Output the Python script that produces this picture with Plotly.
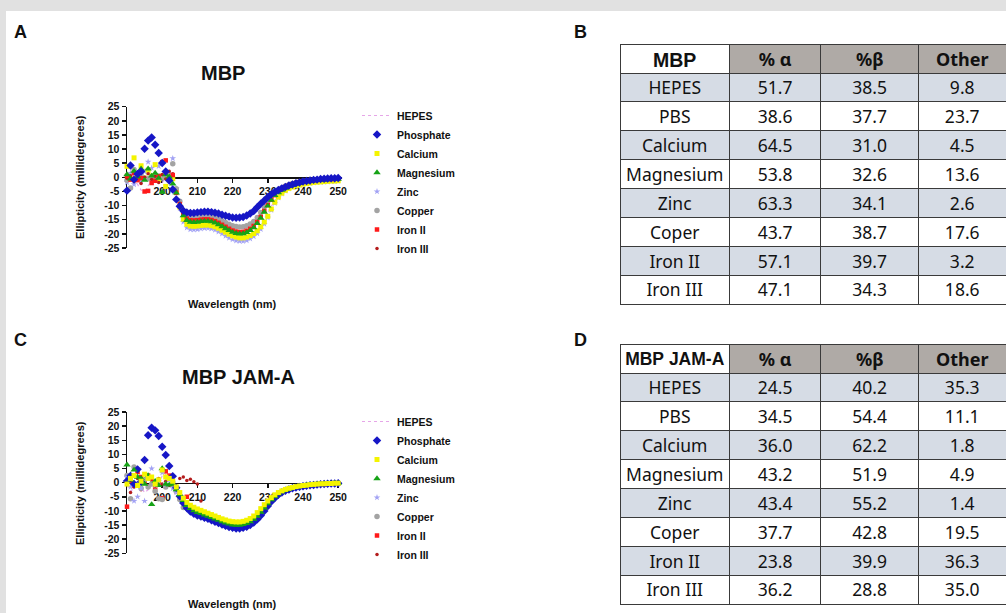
import plotly.graph_objects as go

# ---------------- data ----------------
WAVELENGTH = [190, 191, 192, 193, 194, 195, 196, 197, 198, 199,
              200, 201, 202, 203, 204, 205, 206, 207, 208, 209,
              210, 211, 212, 213, 214, 215, 216, 217, 218, 219,
              220, 221, 222, 223, 224, 225, 226, 227, 228, 229,
              230, 231, 232, 233, 234, 235, 236, 237, 238, 239,
              240, 241, 242, 243, 244, 245, 246, 247, 248, 249,
              250]

SERIES = ["HEPES", "Phosphate", "Calcium", "Magnesium", "Zinc", "Copper", "Iron II", "Iron III"]

# Panel A (MBP)
A_HEPES = [0.5, -1.5, 1.0, -2.5, -4.5, -5.0, -3.0, -1.0, 0.8, -0.5,
           -2.0, 0.5, -1.0, -3.5, -6.5, -10.5, -14.5, -16.3, -16.9, -17.0,
           -16.9, -16.7, -16.6, -16.6, -16.8, -17.2, -17.7, -18.4, -19.1, -19.8,
           -20.3, -20.7, -20.9, -20.9, -20.6, -20.1, -19.3, -18.2, -16.7, -14.8,
           -12.6, -10.2, -8.1, -6.4, -5.2, -4.3, -3.6, -3.1, -2.7, -2.4,
           -2.1, -1.9, -1.7, -1.6, -1.5, -1.4, -1.3, -1.2, -1.1, -1.1,
           -1.0]
A_PHOSPHATE = [-4.7, 4.2, -0.8, 1.2, 2.1, 10.1, 13.0, 14.1, 11.5, 8.6,
               5.1, 2.1, -1.1, -4.3, -7.8, -10.2, -11.8, -12.4, -12.6, -12.6,
               -12.4, -12.3, -12.2, -12.2, -12.3, -12.5, -12.8, -13.2, -13.6, -13.9,
               -14.2, -14.3, -14.2, -14.0, -13.5, -12.8, -11.9, -10.6, -9.3, -8.2,
               -7.0, -6.0, -5.2, -4.5, -3.9, -3.4, -2.9, -2.5, -2.1, -1.8,
               -1.5, -1.3, -1.1, -0.9, -0.8, -0.6, -0.5, -0.4, -0.3, -0.3,
               -0.2]
A_CALCIUM = [3.9, -0.5, 6.9, 1.0, 4.1, -0.2, 2.5, 0.5, 4.5, -0.8,
             0.5, -3.2, -1.0, -0.5, -4.8, -10.5, -14.8, -16.6, -17.2, -17.3,
             -17.2, -17.0, -16.9, -16.9, -17.1, -17.5, -18.0, -18.7, -19.4, -20.1,
             -20.7, -21.1, -21.4, -21.4, -21.1, -20.6, -19.9, -18.9, -17.5, -15.8,
             -13.8, -11.2, -8.8, -7.0, -5.6, -4.6, -3.9, -3.4, -3.0, -2.7,
             -2.4, -2.2, -2.0, -1.8, -1.7, -1.6, -1.5, -1.4, -1.3, -1.3,
             -1.2]
A_MAGNESIUM = [1.0, -0.5, 2.2, 0.2, 3.0, -1.0, 3.0, 0.5, 1.5, -0.3,
               -5.2, 1.0, 0.2, -2.3, -5.5, -9.8, -13.5, -15.2, -15.8, -15.9,
               -15.8, -15.6, -15.5, -15.5, -15.7, -16.1, -16.7, -17.4, -18.1, -18.8,
               -19.4, -19.8, -20.0, -19.9, -19.5, -18.8, -17.8, -16.3, -14.4, -12.3,
               -10.1, -8.1, -6.4, -5.4, -4.5, -3.8, -3.2, -2.8, -2.4, -2.1,
               -1.8, -1.6, -1.4, -1.2, -1.1, -1.0, -0.9, -0.8, -0.7, -0.7,
               -0.6]
A_ZINC = [-1.8, 1.5, -2.5, 0.8, -1.2, 2.0, 5.5, 3.3, -0.8, 4.0,
          -0.5, 1.2, -0.5, 6.7, -4.0, -11.0, -15.8, -17.8, -18.4, -18.5,
          -18.4, -18.2, -18.0, -18.0, -18.2, -18.6, -19.2, -19.9, -20.7, -21.4,
          -22.0, -22.4, -22.6, -22.6, -22.3, -21.7, -20.9, -19.8, -18.3, -16.5,
          -14.3, -11.6, -9.1, -7.2, -5.8, -4.8, -4.0, -3.5, -3.1, -2.8,
          -2.5, -2.3, -2.1, -1.9, -1.8, -1.7, -1.6, -1.5, -1.4, -1.4,
          -1.3]
A_COPPER = [-1.0, -3.8, 2.8, -0.5, 0.8, -0.3, -0.5, 0.2, -0.6, 0.5,
            -0.2, 0.3, 1.0, 4.8, -4.0, -8.5, -12.0, -13.6, -14.2, -14.2,
            -14.0, -13.9, -13.8, -13.8, -14.0, -14.3, -14.8, -15.4, -16.0, -16.6,
            -17.1, -17.4, -17.6, -17.5, -17.1, -16.5, -15.6, -14.2, -12.4, -10.4,
            -8.5, -6.8, -5.5, -4.5, -3.7, -3.1, -2.6, -2.2, -1.9, -1.6,
            -1.4, -1.2, -1.0, -0.9, -0.8, -0.7, -0.6, -0.5, -0.5, -0.4,
            -0.4]
A_IRON2 = [0.5, -0.8, 1.5, -1.0, -0.3, -5.0, -4.8, -2.0, -1.2, 0.4,
           5.4, 6.0, -0.5, 0.8, -5.5, -9.5, -13.0, -14.6, -15.2, -15.3,
           -15.2, -15.0, -14.9, -14.9, -15.1, -15.5, -16.1, -16.8, -17.5, -18.2,
           -18.8, -19.2, -19.4, -19.3, -18.9, -18.2, -17.2, -15.8, -14.0, -11.9,
           -9.8, -7.9, -6.3, -5.0, -4.1, -3.4, -2.8, -2.4, -2.0, -1.7,
           -1.5, -1.3, -1.1, -1.0, -0.9, -0.8, -0.7, -0.6, -0.6, -0.5,
           -0.5]
A_IRON3 = [-0.3, 0.6, -1.5, 0.9, -2.2, 0.0, 1.3, -0.8, 0.4, -1.8,
           1.0, -0.6, 2.2, 1.3, -5.0, -9.2, -12.8, -14.5, -15.1, -15.2,
           -15.1, -14.9, -14.8, -14.8, -15.0, -15.4, -16.0, -16.7, -17.4, -18.1,
           -18.7, -19.1, -19.3, -19.2, -18.8, -18.1, -17.1, -15.7, -13.9, -11.8,
           -9.7, -7.8, -6.2, -5.0, -4.1, -3.4, -2.8, -2.4, -2.0, -1.7,
           -1.5, -1.3, -1.1, -1.0, -0.9, -0.8, -0.7, -0.6, -0.6, -0.5,
           -0.5]

# Panel C (MBP JAM-A)
C_HEPES = [-1.0, -3.0, -2.0, -0.5, -1.5, -3.5, -2.5, -1.0, 0.5, -0.5,
           2.5, 3.0, 1.0, -1.0, -2.5, -4.5, -6.5, -8.2, -9.3, -10.1,
           -10.7, -11.1, -11.6, -12.0, -12.5, -13.0, -13.5, -14.0, -14.4, -14.8,
           -15.1, -15.2, -15.2, -15.0, -14.6, -14.0, -13.1, -12.0, -10.6, -9.1,
           -7.6, -6.2, -5.0, -4.0, -3.3, -2.7, -2.2, -1.9, -1.6, -1.3,
           -1.1, -1.0, -0.8, -0.7, -0.6, -0.5, -0.4, -0.4, -0.3, -0.3,
           -0.2]
C_PHOSPHATE = [0.6, 2.4, -0.5, 4.7, 0.3, 8.0, 16.8, 19.4, 18.5, 16.5,
               12.7, 9.8, 5.9, 2.3, -1.8, -4.8, -7.2, -9.0, -10.2, -11.0,
               -11.6, -12.0, -12.4, -12.8, -13.3, -13.8, -14.3, -14.8, -15.3, -15.7,
               -16.0, -16.2, -16.2, -16.0, -15.6, -15.0, -14.1, -13.0, -11.6, -10.0,
               -8.3, -6.7, -5.4, -4.3, -3.5, -2.9, -2.4, -2.0, -1.7, -1.5,
               -1.3, -1.1, -0.9, -0.8, -0.7, -0.6, -0.5, -0.4, -0.3, -0.3,
               -0.2]
C_CALCIUM = [-0.5, 1.5, 2.5, -1.0, 0.5, 3.0, 1.5, 2.0, -0.5, 1.0,
             4.5, 2.0, 1.5, 0.5, -1.5, -3.5, -5.5, -7.0, -8.0, -8.7,
             -9.3, -9.8, -10.3, -10.8, -11.3, -11.8, -12.3, -12.8, -13.2, -13.6,
             -13.8, -13.9, -13.9, -13.7, -13.3, -12.7, -11.8, -10.6, -9.2, -7.8,
             -6.5, -5.3, -4.3, -3.5, -2.9, -2.4, -2.0, -1.7, -1.4, -1.2,
             -1.0, -0.9, -0.7, -0.6, -0.5, -0.4, -0.4, -0.3, -0.3, -0.2,
             -0.2]
C_MAGNESIUM = [6.3, 1.0, 4.5, 2.0, 1.5, -0.5, 2.5, -7.7, 0.5, -1.0,
               5.0, -0.5, -0.8, -0.5, -2.5, -4.2, -6.3, -8.0, -9.1, -9.9,
               -10.5, -10.9, -11.4, -11.8, -12.3, -12.8, -13.3, -13.8, -14.2, -14.6,
               -14.9, -15.0, -15.0, -14.8, -14.4, -13.8, -12.9, -11.8, -10.4, -8.9,
               -7.4, -6.0, -4.9, -3.9, -3.2, -2.6, -2.2, -1.8, -1.5, -1.3,
               -1.1, -0.9, -0.8, -0.7, -0.6, -0.5, -0.4, -0.3, -0.3, -0.2,
               -0.2]
C_ZINC = [2.0, -1.5, -6.5, -5.0, -2.0, -6.5, 1.5, 5.0, -1.0, 0.5,
          3.5, -0.5, 1.0, -2.0, -3.5, -5.0, -6.8, -8.5, -9.6, -10.4,
          -11.0, -11.4, -11.9, -12.3, -12.8, -13.3, -13.8, -14.3, -14.7, -15.1,
          -15.4, -15.5, -15.5, -15.3, -14.9, -14.3, -13.4, -12.3, -10.9, -9.4,
          -7.8, -6.3, -5.1, -4.1, -3.3, -2.7, -2.3, -1.9, -1.6, -1.4,
          -1.2, -1.0, -0.9, -0.7, -0.6, -0.5, -0.5, -0.4, -0.3, -0.3,
          -0.2]
C_COPPER = [2.5, -5.7, 5.5, -0.5, -2.0, 1.0, -1.5, -0.5, -3.0, -5.7,
            -6.0, -1.5, 1.5, 0.2, -3.0, -6.0, -8.8, -9.0, -9.4, -10.1,
            -10.7, -11.1, -11.6, -12.0, -12.5, -13.0, -13.5, -14.0, -14.4, -14.8,
            -15.1, -15.2, -15.2, -15.0, -14.6, -14.0, -13.1, -12.0, -10.6, -9.1,
            -7.6, -6.2, -5.0, -4.0, -3.3, -2.7, -2.2, -1.9, -1.6, -1.3,
            -1.1, -1.0, -0.8, -0.7, -0.6, -0.5, -0.4, -0.4, -0.3, -0.3,
            -0.2]
C_IRON2 = [-8.5, 0.5, -1.0, 3.8, 2.0, 0.5, 2.5, 1.5, -2.0, 0.0,
           -5.5, 4.0, 2.5, -0.5, -3.0, -5.5, -7.0, -5.0, -9.5, -10.3,
           -10.9, -11.3, -11.8, -12.2, -12.7, -13.2, -13.7, -14.2, -14.6, -15.0,
           -15.3, -15.4, -15.4, -15.2, -14.8, -14.2, -13.3, -12.2, -10.8, -9.3,
           -7.7, -6.3, -5.1, -4.1, -3.3, -2.7, -2.3, -1.9, -1.6, -1.4,
           -1.2, -1.0, -0.9, -0.7, -0.6, -0.5, -0.5, -0.4, -0.3, -0.3,
           -0.2]
C_IRON3 = [1.0, -3.5, -1.5, 1.5, -2.5, 0.5, -1.0, 0.8, -1.5, 1.5,
           -0.5, 0.5, -1.0, 1.8, -2.0, 1.5, 2.0, 0.8, 1.2, 0.3,
           -0.5, -6.5, -11.7, -12.1, -12.6, -13.1, -13.6, -14.1, -14.5, -14.9,
           -15.2, -15.3, -15.3, -15.1, -14.7, -14.1, -13.2, -12.1, -10.7, -9.2,
           -7.7, -6.2, -5.0, -4.0, -3.3, -2.7, -2.2, -1.9, -1.6, -1.4,
           -1.2, -1.0, -0.9, -0.7, -0.6, -0.5, -0.4, -0.4, -0.3, -0.3,
           -0.2]

X_TICKS = [200, 210, 220, 230, 240, 250]
Y_TICKS = [-25, -20, -15, -10, -5, 0, 5, 10, 15, 20, 25]
Y_TICK_LABELS = ["-25", "-20", "-15", "-10", "-5", "0", "5", "10", "15", "20", "25"]

# Tables
ROW_LABELS = ["HEPES", "PBS", "Calcium", "Magnesium", "Zinc", "Coper", "Iron II", "Iron III"]
MBP_HEADER = ["MBP", "%\u00a0α", "%β", "Other"]
MBP_ALPHA = [51.7, 38.6, 64.5, 53.8, 63.3, 43.7, 57.1, 47.1]
MBP_BETA = [38.5, 37.7, 31.0, 32.6, 34.1, 38.7, 39.7, 34.3]
MBP_OTHER = [9.8, 23.7, 4.5, 13.6, 2.6, 17.6, 3.2, 18.6]
JAM_HEADER = ["MBP\u00a0JAM-A", "%\u00a0α", "%β", "Other"]
JAM_ALPHA = [24.5, 34.5, 36.0, 43.2, 43.4, 37.7, 23.8, 36.2]
JAM_BETA = [40.2, 54.4, 62.2, 51.9, 55.2, 42.8, 39.9, 28.8]
JAM_OTHER = [35.3, 11.1, 1.8, 4.9, 1.4, 19.5, 36.3, 35.0]

# ---------------- layout helpers ----------------
W, H = 1006, 613
def fx(p):
    return p / W
def fy(p):
    return 1 - p / H

FONT = "Liberation Sans"
STYLES = {
    "HEPES": dict(mode="lines", line=dict(color="#e6a6e8", width=1.2, dash="dot")),
    "Phosphate": dict(mode="markers", marker=dict(symbol="diamond", size=6.5, color="#1616c6")),
    "Calcium": dict(mode="markers", marker=dict(symbol="square", size=5, color="#f4f400")),
    "Magnesium": dict(mode="markers", marker=dict(symbol="triangle-up", size=6.5, color="#16a316")),
    "Zinc": dict(mode="markers", marker=dict(symbol="star", size=5, color="#a2a2f4")),
    "Copper": dict(mode="markers", marker=dict(symbol="circle", size=5.5, color="#a3a3a3")),
    "Iron II": dict(mode="markers", marker=dict(symbol="square", size=4.5, color="#ff1a1a")),
    "Iron III": dict(mode="markers", marker=dict(symbol="circle", size=3.5, color="#b41c1c")),
}

PANEL_A = {"HEPES": A_HEPES, "Phosphate": A_PHOSPHATE, "Calcium": A_CALCIUM,
           "Magnesium": A_MAGNESIUM, "Zinc": A_ZINC, "Copper": A_COPPER,
           "Iron II": A_IRON2, "Iron III": A_IRON3}
PANEL_C = {"HEPES": C_HEPES, "Phosphate": C_PHOSPHATE, "Calcium": C_CALCIUM,
           "Magnesium": C_MAGNESIUM, "Zinc": C_ZINC, "Copper": C_COPPER,
           "Iron II": C_IRON2, "Iron III": C_IRON3}

ORDER_A = ["HEPES", "Zinc", "Calcium", "Copper", "Iron III", "Iron II", "Magnesium", "Phosphate"]
ORDER_C = ["HEPES", "Iron III", "Iron II", "Copper", "Zinc", "Phosphate", "Magnesium", "Calcium"]

fig = go.Figure()

for panel, order, xa, ya, leg in [(PANEL_A, ORDER_A, "x", "y", "legend"),
                                  (PANEL_C, ORDER_C, "x2", "y2", "legend2")]:
    for name in order:
        fig.add_trace(go.Scatter(
            x=WAVELENGTH, y=panel[name], name=name, xaxis=xa, yaxis=ya,
            legend=leg, legendrank=SERIES.index(name) + 1, cliponaxis=False,
            hoverinfo="skip", **STYLES[name]))

# tables
ROW_FILL = ["#d6dce5", "#ffffff"] * 4
HEAD_FILL = ["#ffffff", "#afaaa6", "#afaaa6", "#afaaa6"]
for header, a, b, o, top, bot, hsize in [
        (MBP_HEADER, MBP_ALPHA, MBP_BETA, MBP_OTHER, 44, 307, 19.5),
        (JAM_HEADER, JAM_ALPHA, JAM_BETA, JAM_OTHER, 344, 607, 17.5)]:
    fig.add_trace(go.Table(
        domain=dict(x=[fx(620), 1.0], y=[fy(bot), fy(top)]),
        columnwidth=[110, 92, 98, 88],
        header=dict(values=header, height=29,
                    fill=dict(color=HEAD_FILL),
                    line=dict(color="#3a3a3a", width=1),
                    align="center",
                    font=dict(family=[FONT, "Noto Sans", "Noto Sans", "Noto Sans"],
                              size=[hsize, 18, 18, 18], color="#111", weight="bold")),
        cells=dict(values=[ROW_LABELS, a, b, o], height=28.9,
                   format=["", ".1f", ".1f", ".1f"],
                   fill=dict(color=[ROW_FILL] * 4),
                   line=dict(color="#3a3a3a", width=1),
                   align="center",
                   font=dict(family="Noto Sans", size=17.5, color="#111"))))

axis_common = dict(showgrid=False, zeroline=False, showline=True, linecolor="#111",
                   linewidth=1.5, ticks="outside", ticklen=4, tickwidth=1.5,
                   tickcolor="#111", layer="below traces", automargin=False,
                   tickfont=dict(family=FONT, size=10.5, color="#111", weight="bold"))

def xaxis(zero_py):
    return dict(axis_common, range=[190, 251.08], domain=[fx(127), fx(342)],
                anchor="free", position=fy(zero_py), tickvals=X_TICKS,
                ticktext=[str(t) for t in X_TICKS])

def yaxis(top_py, bot_py, xref):
    return dict(axis_common, range=[-25, 25], domain=[fy(bot_py), fy(top_py)],
                anchor=xref, tickvals=Y_TICKS, ticktext=Y_TICK_LABELS)

legend_common = dict(bgcolor="rgba(0,0,0,0)", xanchor="left", yanchor="top",
                     font=dict(family=FONT, size=10.5, color="#111", weight="bold"),
                     tracegroupgap=0, itemsizing="trace")

annotations = []
def ann(text, x, y, size, angle=0):
    annotations.append(dict(text=text, x=fx(x), y=fy(y), xref="paper", yref="paper",
                            showarrow=False, textangle=angle, xanchor="center", yanchor="middle",
                            font=dict(family=FONT, size=size, color="#111", weight="bold")))

for lab, x, y in [("A", 20, 32), ("B", 580, 32), ("C", 20, 340), ("D", 580, 340)]:
    ann(lab, x, y, 18)
ann("MBP", 223, 73, 20)
ann("MBP JAM-A", 238, 377, 20)
ann("Ellipticity (millidegrees)", 80, 177, 11, -90)
ann("Ellipticity (millidegrees)", 80, 483, 11, -90)
ann("Wavelength (nm)", 232, 304, 11)
ann("Wavelength (nm)", 232, 604, 11)

fig.update_layout(
    width=W, height=H, autosize=False,
    margin=dict(l=0, r=0, t=0, b=0, pad=0, autoexpand=False),
    paper_bgcolor="#e1e1e1", plot_bgcolor="rgba(0,0,0,0)",
    showlegend=True, hovermode=False,
    xaxis=xaxis(177.35), yaxis=yaxis(106.7, 248.0, "x"),
    xaxis2=xaxis(482.65), yaxis2=yaxis(412.0, 553.3, "x2"),
    legend=dict(legend_common, x=fx(357), y=fy(101)),
    legend2=dict(legend_common, x=fx(357), y=fy(407)),
    annotations=annotations,
    shapes=[dict(type="rect", xref="paper", yref="paper", x0=fx(6), x1=1.0,
                 y0=0, y1=fy(11), fillcolor="#ffffff", line=dict(width=0), layer="below")],
)

fig.write_html("out.html", config={"displayModeBar": False, "staticPlot": True},
               post_script="document.body.style.margin='0px';document.body.style.overflow='hidden';")
